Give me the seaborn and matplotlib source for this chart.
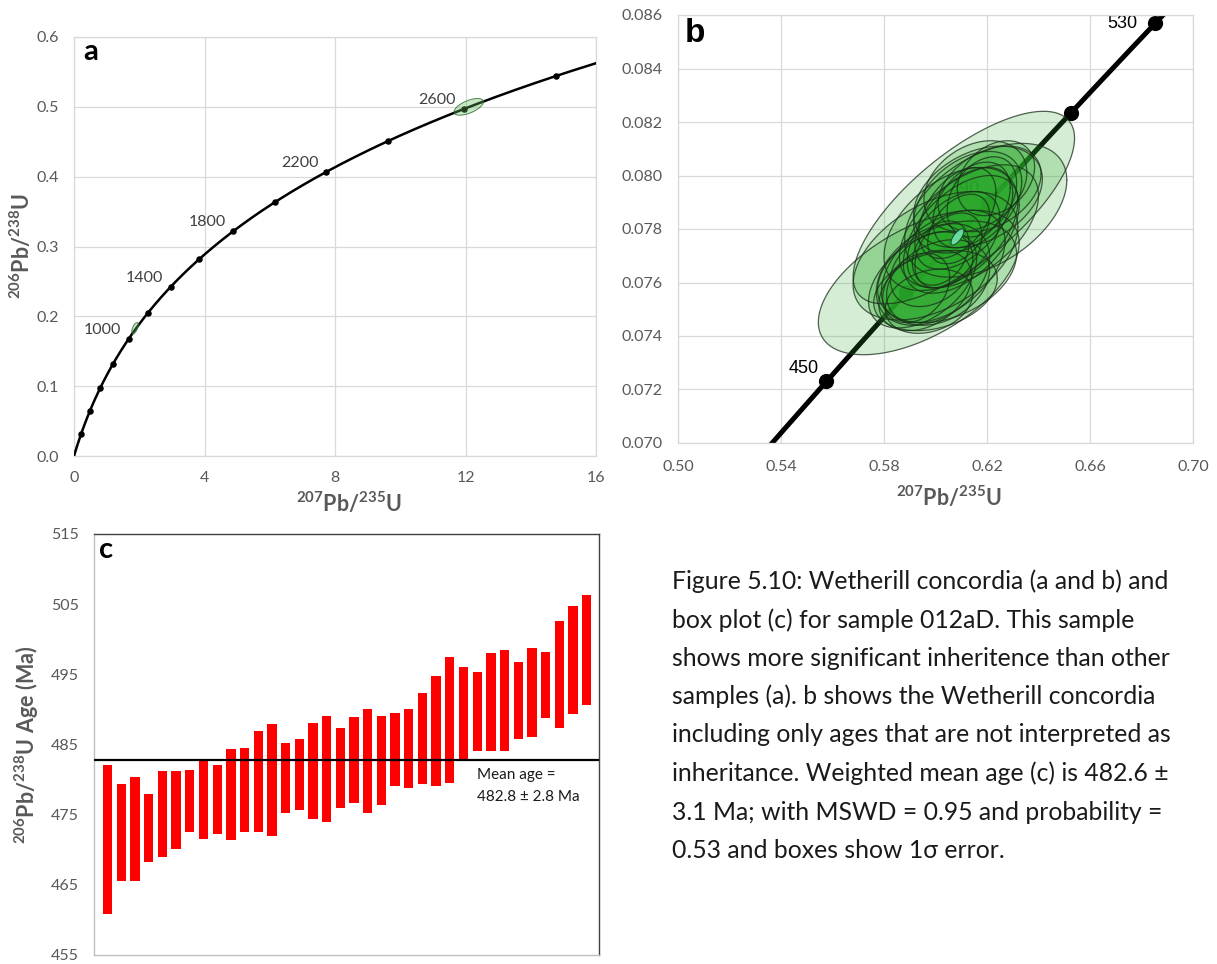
import numpy as np
import matplotlib
matplotlib.use("Agg")
import matplotlib.pyplot as plt
import seaborn as sns
from matplotlib.ticker import FormatStrFormatter
from matplotlib.transforms import blended_transform_factory

# ---------------------------------------------------------------- constants
LAMBDA_238 = 1.55125e-10   # decay constant of 238U (1/yr)
LAMBDA_235 = 9.8485e-10    # decay constant of 235U (1/yr)

# ---------------------------------------------------------------- panel a data
a_marker_ages = [200, 400, 600, 800, 1000, 1200, 1400, 1600, 1800, 2000,
                 2200, 2400, 2600, 2800]
a_label_ages = [1000, 1400, 1800, 2200, 2600]
# error ellipses: centre x, centre y, half-width x, half-height y, correlation
a_ell_x = [12.10, 1.87]
a_ell_y = [0.500, 0.183]
a_ell_ax = [0.45, 0.10]
a_ell_ay = [0.0120, 0.0080]
a_ell_rho = [0.60, 0.60]

# ---------------------------------------------------------------- panel b data
b_ell_x = [0.5935, 0.6110, 0.6195, 0.6000, 0.6165, 0.6125, 0.6060, 0.5990,
           0.6010, 0.5960, 0.6030, 0.6070, 0.6110, 0.6140, 0.6180, 0.6090,
           0.6050, 0.5985, 0.6020, 0.5950, 0.6100, 0.6155, 0.6045, 0.5975,
           0.6130, 0.6210, 0.5925, 0.6085, 0.6235, 0.6000]
b_ell_y = [0.0760, 0.0788, 0.0787, 0.0770, 0.0792, 0.0790, 0.0780, 0.0763,
           0.0760, 0.0757, 0.0766, 0.0776, 0.0784, 0.0789, 0.0792, 0.0780,
           0.0772, 0.0765, 0.0771, 0.0761, 0.0778, 0.0796, 0.0764, 0.0753,
           0.0781, 0.0795, 0.0758, 0.0786, 0.0799, 0.0757]
b_ell_ax = [0.0390, 0.0430, 0.0315, 0.0320, 0.0250, 0.0210, 0.0260, 0.0220,
            0.0200, 0.0180, 0.0240, 0.0180, 0.0190, 0.0150, 0.0135, 0.0120,
            0.0130, 0.0160, 0.0110, 0.0210, 0.0225, 0.0200, 0.0270, 0.0170,
            0.0270, 0.0200, 0.0130, 0.0150, 0.0150, 0.0240]
b_ell_ay = [0.0027, 0.0036, 0.0025, 0.0024, 0.0019, 0.0019, 0.0023, 0.0019,
            0.0016, 0.0015, 0.0021, 0.0018, 0.0019, 0.0016, 0.0015, 0.0013,
            0.0014, 0.0014, 0.0012, 0.0018, 0.0022, 0.0017, 0.0019, 0.0012,
            0.0023, 0.0016, 0.0013, 0.0017, 0.0014, 0.0015]
b_ell_rho = [0.55, 0.72, 0.45, 0.45, 0.35, 0.40, 0.45, 0.35, 0.30, 0.35,
             0.45, 0.45, 0.50, 0.40, 0.35, 0.40, 0.40, 0.30, 0.30, 0.45,
             0.50, 0.30, 0.35, 0.25, 0.50, 0.35, 0.30, 0.45, 0.30, 0.30]
# smallest (most precise) analysis
b_small_x, b_small_y, b_small_ax, b_small_ay, b_small_rho = 0.6085, 0.0777, 0.0025, 0.0003, 0.70
b_marker_ages = [450, 470, 490, 510, 530]
b_label_ages = [450, 490, 530]

# ---------------------------------------------------------------- panel c data
c_age_high = [482.1, 479.3, 480.3, 477.9, 481.2, 481.2, 481.4, 482.9, 482.1,
              484.4, 484.5, 486.9, 487.9, 485.2, 485.8, 488.1, 489.0, 487.3,
              488.9, 490.1, 489.1, 489.5, 490.0, 492.4, 494.8, 497.5, 496.0,
              495.4, 498.1, 498.5, 496.8, 498.8, 498.2, 502.6, 504.7, 506.3]
c_age_low = [460.9, 465.5, 465.5, 468.2, 468.9, 470.1, 472.6, 471.6, 472.2,
             471.4, 472.6, 472.6, 472.0, 475.3, 475.7, 474.4, 474.0, 476.0,
             476.6, 475.3, 476.4, 479.1, 478.8, 479.4, 479.1, 479.5, 482.9,
             484.1, 484.1, 484.1, 485.8, 486.1, 488.8, 487.4, 489.3, 490.6]
mean_age = 482.8
mean_age_err = 2.8

caption_lines = [
    "Figure 5.10: Wetherill concordia (a and b) and",
    "box plot (c) for sample 012aD. This sample",
    "shows more significant inheritence than other",
    "samples (a). b shows the Wetherill concordia",
    "including only ages that are not interpreted as",
    "inheritance. Weighted mean age (c) is 482.6 \u00b1",
    "3.1 Ma; with MSWD = 0.95 and probability =",
    "0.53 and boxes show 1\u03c3 error.",
]

# ---------------------------------------------------------------- style
sns.set_theme(style="white")
plt.rcParams["font.family"] = ["Lato", "DejaVu Sans"]
plt.rcParams["mathtext.fontset"] = "custom"
plt.rcParams["mathtext.rm"] = "Lato"
plt.rcParams["mathtext.bf"] = "Lato:bold"
plt.rcParams["mathtext.it"] = "Lato:italic"

TICK_GREY = "#595959"
GRID_GREY = "#d9d9d9"
LABEL_GREY = "#595959"

W, H = 1217, 964
fig = plt.figure(figsize=(W / 100, H / 100), dpi=100)


def px_axes(left, top, right, bottom):
    return fig.add_axes([left / W, 1 - bottom / H, (right - left) / W, (bottom - top) / H])


def concordia(ages_ma):
    t = np.asarray(ages_ma, dtype=float) * 1e6
    return np.expm1(LAMBDA_235 * t), np.expm1(LAMBDA_238 * t)


def ellipse_outline(cx, cy, ax_, ay_, rho, n=240):
    t = np.linspace(0, 2 * np.pi, n)
    x = cx + ax_ * np.cos(t)
    y = cy + ay_ * (rho * np.cos(t) + np.sqrt(1 - rho ** 2) * np.sin(t))
    return x, y


def excel_axes(ax):
    ax.grid(True, color=GRID_GREY, lw=0.9)
    ax.set_axisbelow(True)
    for s in ax.spines.values():
        s.set_color(GRID_GREY)
        s.set_linewidth(0.9)
    ax.tick_params(length=0, labelsize=11.5, labelcolor=TICK_GREY)


iso_label = r"$\mathbf{^{207}Pb/^{235}U}$"
iso_label_y = r"$\mathbf{^{206}Pb/^{238}U}$"

# ================================================================= panel a
ax_a = px_axes(74, 37, 596, 456)
excel_axes(ax_a)
ax_a.tick_params(axis="x", pad=11)
ax_a.tick_params(axis="y", pad=11)

curve_ages = np.linspace(0, 3000, 600)
cx, cy = concordia(curve_ages)
sns.lineplot(x=cx, y=cy, ax=ax_a, color="black", lw=1.8, sort=False,
             estimator=None, zorder=3)
mx, my = concordia(a_marker_ages)
sns.scatterplot(x=mx, y=my, ax=ax_a, color="black", s=22, edgecolor="black",
                linewidth=0, zorder=4)
for x0, y0, a0, b0, r0 in zip(a_ell_x, a_ell_y, a_ell_ax, a_ell_ay, a_ell_rho):
    ex, ey = ellipse_outline(x0, y0, a0, b0, r0)
    ax_a.fill(ex, ey, facecolor="#5cb85c", alpha=0.35, edgecolor="none", zorder=5)
    ax_a.plot(ex, ey, color="#2e6b2e", lw=0.7, alpha=0.8, zorder=5)
lx, ly = concordia(a_label_ages)
for age, x0, y0 in zip(a_label_ages, lx, ly):
    ax_a.annotate(str(age), (x0, y0), xytext=(-5.5, 6.5), textcoords="offset points",
                  ha="right", va="center", fontsize=11.5, color="#404040", zorder=6)

ax_a.set_xlim(0, 16)
ax_a.set_ylim(0, 0.6)
ax_a.set_xticks([0, 4, 8, 12, 16])
ax_a.set_yticks(np.arange(0, 0.61, 0.1))
ax_a.yaxis.set_major_formatter(FormatStrFormatter("%.1f"))
ax_a.set_xlabel(iso_label, fontsize=15.5, color=LABEL_GREY)
ax_a.set_ylabel(iso_label_y, fontsize=15.5, color=LABEL_GREY)
ax_a.xaxis.set_label_coords(0.527, -0.083)
ax_a.yaxis.set_label_coords(-0.076, 0.5)
ax_a.text(0.017, 0.964, "a", transform=ax_a.transAxes, fontsize=21,
          fontweight="bold", color="black", ha="left", va="center")

# ================================================================= panel b
ax_b = px_axes(678, 15, 1193, 443)
excel_axes(ax_b)
ax_b.tick_params(axis="x", pad=12)
ax_b.tick_params(axis="y", pad=11)

curve_b = np.linspace(430, 540, 200)
bx, by = concordia(curve_b)
sns.lineplot(x=bx, y=by, ax=ax_b, color="black", lw=3.6, sort=False,
             estimator=None, zorder=2)
bmx, bmy = concordia(b_marker_ages)
sns.scatterplot(x=bmx, y=bmy, ax=ax_b, color="black", s=120, edgecolor="black",
                linewidth=0, zorder=2.5)
blx, bly = concordia(b_label_ages)
b_label_offsets = {450: (-5.5, 9.5), 490: (-5.5, 9.5), 530: (-12.5, 0.0)}
for age, x0, y0 in zip(b_label_ages, blx, bly):
    ax_b.annotate(str(age), (x0, y0), xytext=b_label_offsets[age],
                  textcoords="offset points", ha="right", va="center",
                  fontsize=13, color="black", family="Liberation Sans", zorder=2.5)

for x0, y0, a0, b0, r0 in zip(b_ell_x, b_ell_y, b_ell_ax, b_ell_ay, b_ell_rho):
    ex, ey = ellipse_outline(x0, y0, a0, b0, r0)
    ax_b.fill(ex, ey, facecolor="#2aa82a", alpha=0.2, edgecolor="none", zorder=3)
    ax_b.plot(ex, ey, color="#1a2e1a", lw=0.9, alpha=0.75, zorder=3.1)
ex, ey = ellipse_outline(b_small_x, b_small_y, b_small_ax, b_small_ay, b_small_rho)
ax_b.fill(ex, ey, facecolor="#6fe0a8", alpha=0.95, edgecolor="#1a4d2e", lw=0.8, zorder=3.2)

ax_b.set_xlim(0.50, 0.70)
ax_b.set_ylim(0.070, 0.086)
ax_b.set_xticks(np.arange(0.50, 0.701, 0.04))
ax_b.set_yticks(np.arange(0.070, 0.0861, 0.002))
ax_b.xaxis.set_major_formatter(FormatStrFormatter("%.2f"))
ax_b.yaxis.set_major_formatter(FormatStrFormatter("%.3f"))
ax_b.set_xlabel(iso_label, fontsize=15.5, color=LABEL_GREY)
ax_b.xaxis.set_label_coords(0.527, -0.098)
ax_b.text(0.0136, 0.956, "b", transform=ax_b.transAxes, fontsize=24,
          fontweight="bold", color="black", ha="left", va="center",
          family="Liberation Sans")

# ================================================================= panel c
ax_c = px_axes(94, 534, 599, 955)
ax_c.grid(False)
for side in ("left", "bottom"):
    ax_c.spines[side].set_color("#bfbfbf")
for side in ("top", "right"):
    ax_c.spines[side].set_color("#404040")
for s in ax_c.spines.values():
    s.set_linewidth(1.0)
ax_c.tick_params(length=0, labelsize=11.5, labelcolor=TICK_GREY, pad=11)

idx = np.arange(len(c_age_high))
low = np.asarray(c_age_low)
high = np.asarray(c_age_high)
ax_c.bar(idx, high - low, bottom=low, width=0.68, color="#ff0000",
         edgecolor="none", zorder=2)
ax_c.axhline(mean_age, color="black", lw=1.6, zorder=3)

ax_c.set_xlim(-1.0, len(idx) - 0.1)
ax_c.set_ylim(455, 515)
ax_c.set_yticks(np.arange(455, 516, 10))
ax_c.set_xticks([])
ax_c.set_ylabel(r"$\mathbf{^{206}Pb/^{238}U\ Age\ (Ma)}$", fontsize=15.5, color=LABEL_GREY)
ax_c.yaxis.set_label_coords(-0.105, 0.5)
ax_c.text(0.010, 0.962, "c", transform=ax_c.transAxes, fontsize=21,
          fontweight="bold", color="black", ha="left", va="center")

tr = blended_transform_factory(ax_c.transAxes, ax_c.transData)
ax_c.text(0.758, 480.65, "Mean age =", transform=tr, fontsize=11,
          color="#1a1a1a", ha="left", va="center")
ax_c.text(0.758, 477.55, f"{mean_age:.1f} \u00b1 {mean_age_err:.1f} Ma", transform=tr,
          fontsize=11, color="#1a1a1a", ha="left", va="center")

# ================================================================= caption
caption_y = [581, 620, 658, 696, 735, 773, 812, 850]
for line, ypx in zip(caption_lines, caption_y):
    fig.text(672 / W, 1 - ypx / H, line, fontsize=17.8, color="#1a1a1a",
             ha="left", va="center")

fig.savefig("out.png", dpi=100, facecolor="white")
